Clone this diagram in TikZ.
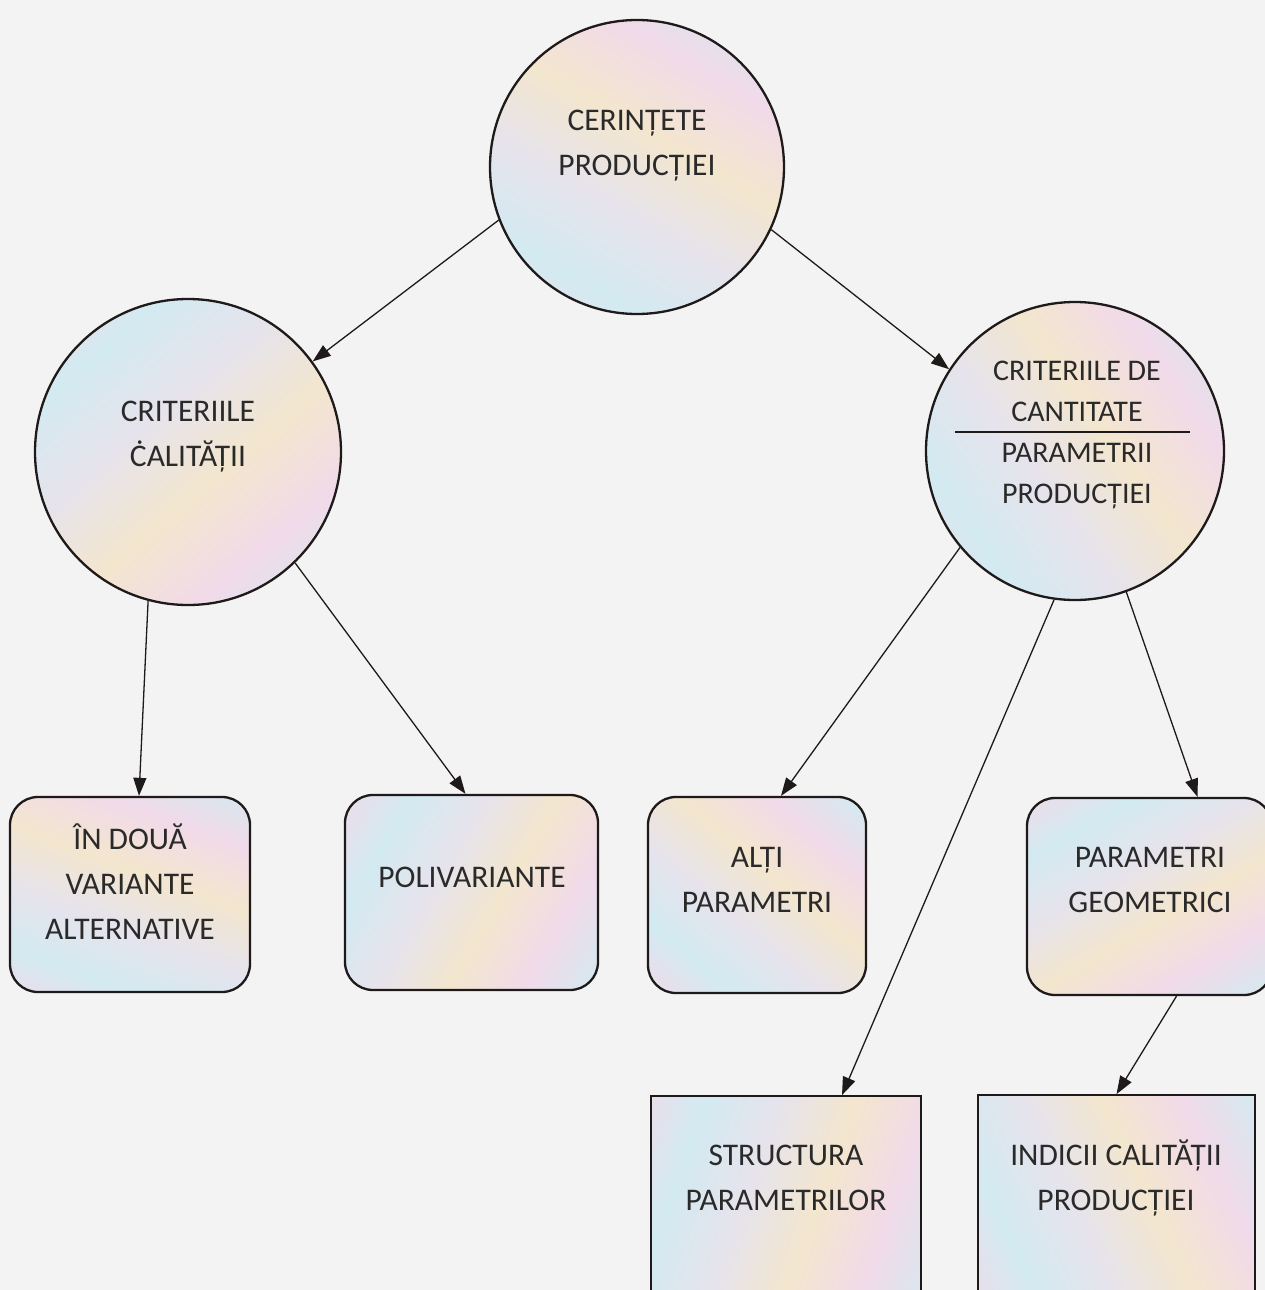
\documentclass[tikz,border=0pt]{standalone}
\usepackage{fontspec}
\setmainfont{Carlito}
\usetikzlibrary{arrows.meta,calc}
\definecolor{paper}{HTML}{F3F3F3}
\definecolor{ink}{HTML}{1E1A1A}
\definecolor{txt}{HTML}{2A2A2A}
\definecolor{pk}{HTML}{F1DAE9}
\definecolor{cy}{HTML}{D3EAF1}
\definecolor{ye}{HTML}{F3E6CE}
\definecolor{lv}{HTML}{E6E3EC}
\pgfdeclarehorizontalshading{pastel}{100bp}{color(0bp)=(lv); color(14bp)=(pk); color(28bp)=(cy); color(42bp)=(lv); color(56bp)=(ye); color(70bp)=(pk); color(84bp)=(cy); color(100bp)=(lv)}
\tikzset{
  circ/.style={circle, draw=ink, line width=2.3pt, shading=pastel, shading angle=#1, inner sep=0pt},
  rbox/.style={rectangle, rounded corners=28pt, draw=ink, line width=2.3pt, shading=pastel, shading angle=#1},
  sbox/.style={rectangle, draw=ink, line width=1.8pt, shading=pastel, shading angle=#1},
  lbl/.style={align=center, text=txt, font=\fontsize{31.5}{45}\selectfont, inner sep=0pt},
  lbltight/.style={align=center, text=txt, font=\fontsize{30}{41}\selectfont, inner sep=0pt},
  conn/.style={draw=ink, line width=1.3pt, -{Triangle[length=18pt,width=13pt]}},
  divider/.style={draw=ink, line width=2pt}
}
\begin{document}
\begin{tikzpicture}[x=1pt,y=-1pt]
\useasboundingbox (0,0) rectangle (1265,1290);
\fill[paper] (0,0) rectangle (1265,1290);
\begin{scope}
\clip (0,0) rectangle (1265,1290);
% circles
\node[circ=60, minimum size=294pt] (top) at (637,167) {};
\node[circ=-50, minimum size=306pt] (lc) at (188,452) {};
\node[circ=35, minimum size=298pt] (rc) at (1075,451) {};
% boxes
\node[rbox=70, minimum width=240pt, minimum height=195pt] (b1) at (130,894.5) {};
\node[rbox=-30, minimum width=253pt, minimum height=195pt] (b2) at (471.5,892.5) {};
\node[rbox=50, minimum width=218pt, minimum height=196pt] (b3) at (757,895) {};
\node[rbox=-60, minimum width=245pt, minimum height=197pt] (b4) at (1149.5,896.5) {};
\node[sbox=-20, minimum width=270pt, minimum height=214pt] (b5) at (786,1203) {};
\node[sbox=25, minimum width=277pt, minimum height=215pt] (b6) at (1116.5,1202.5) {};
% texts
\node[lbl] (ttop) at (637,146) {CERINȚETE\\PRODUCȚIEI};
\node[lbl] (tlc) at (188,436.5) {CRITERIILE\\ĊALITĂȚII};
\node[lbltight] (trc) at (1077,434.5) {CRITERIILE DE\\CANTITATE\\PARAMETRII\\PRODUCȚIEI};
\draw[divider] ($(rc.center)+(-120,-19)$) -- ($(rc.center)+(115,-19)$);
\node[lbl] (tb1) at (130,882) {ÎN DOUĂ\\VARIANTE\\ALTERNATIVE};
\node[lbl] (tb2) at (472,877) {POLIVARIANTE};
\node[lbl] (tb3) at (757,879.5) {ALȚI\\PARAMETRI};
\node[lbl] (tb4) at (1150,880) {PARAMETRI\\GEOMETRICI};
\node[lbl] (tb5) at (786,1177.5) {STRUCTURA\\PARAMETRILOR};
\node[lbl] (tb6) at (1116,1177.5) {INDICII CALITĂȚII\\PRODUCȚIEI};
% connectors
\draw[conn] (top.201) -- (lc.36);
\draw[conn] (top.335) -- (rc.147);
\draw[conn] (lc.255) -- ($(b1.north)+(9,0)$);
\draw[conn] (lc.314) -- ($(b2.north)+(-6,0)$);
\draw[conn] (rc.220) -- ($(b3.north)+(24,0)$);
\draw[conn] (rc.262) -- ($(b5.north)+(56,0)$);
\draw[conn] (rc.290) -- ($(b4.north)+(48,0)$);
\draw[conn] ($(b4.south)+(27,0)$) -- (b6.north);
\end{scope}
\end{tikzpicture}
\end{document}
